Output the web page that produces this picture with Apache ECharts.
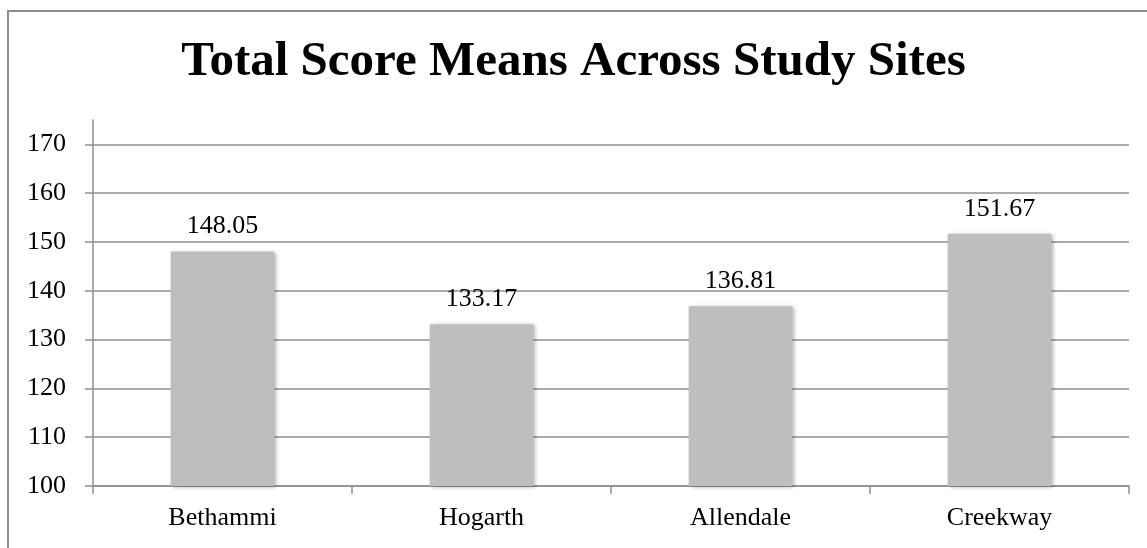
<!DOCTYPE html>
<html>
<head>
<meta charset="utf-8">
<script src="https://cdn.jsdelivr.net/npm/echarts@6/dist/echarts.min.js"></script>
<style>
  html, body { margin: 0; padding: 0; background: #fff; overflow: hidden; }
  #frame { position: absolute; left: 7px; top: 10px; width: 1300px; height: 700px;
           border-left: 2px solid #8c8c8c; border-top: 2px solid #8c8c8c; box-sizing: border-box; }
  #chart { position: absolute; left: 0; top: 0; width: 1147px; height: 548px; }
</style>
</head>
<body>
<div id="frame"></div>
<div id="chart"></div>
<script>
// Study sites and their mean total scores
const sites = ['Bethammi', 'Hogarth', 'Allendale', 'Creekway'];
const meanScores = [148.05, 133.17, 136.81, 151.67];
// Labelled y-axis ticks
const yTicks = [100, 110, 120, 130, 140, 150, 160, 170];

const serif = '"Liberation Serif", "DejaVu Serif", serif';
const lineColor = '#8f8f8f';

const chart = echarts.init(document.getElementById('chart'), null, { renderer: 'canvas' });
chart.setOption({
  animation: false,
  backgroundColor: 'transparent',
  title: {
    text: 'Total Score Means Across Study Sites',
    left: 'center',
    top: 33,
    textStyle: { fontFamily: serif, fontWeight: 'bold', fontSize: 49, color: '#000' }
  },
  grid: { left: 93, right: 18, top: 120, bottom: 62 },
  xAxis: {
    type: 'category',
    data: sites,
    axisLine: { lineStyle: { color: lineColor, width: 1.5 } },
    axisTick: { show: true, alignWithLabel: false, length: 8, lineStyle: { color: lineColor, width: 1.5 } },
    axisLabel: { fontFamily: serif, fontSize: 26, color: '#000', margin: 19 }
  },
  yAxis: {
    type: 'value',
    min: 100,
    max: 175,
    interval: 5,
    axisLine: { show: true, lineStyle: { color: lineColor, width: 1.5 } },
    axisTick: { show: true, length: 8, customValues: yTicks, lineStyle: { color: lineColor, width: 1.5 } },
    axisLabel: { fontFamily: serif, fontSize: 26, color: '#000', margin: 27, customValues: yTicks },
    splitLine: { show: true, lineStyle: { color: lineColor, width: 1.5 } }
  },
  series: [{
    type: 'bar',
    data: meanScores,
    barWidth: '40%',
    itemStyle: {
      color: '#bebebe',
      shadowColor: 'rgba(0,0,0,0.3)',
      shadowBlur: 4,
      shadowOffsetX: 2,
      shadowOffsetY: 1
    },
    label: {
      show: true,
      position: 'top',
      distance: 12,
      fontFamily: serif,
      fontSize: 26,
      color: '#000',
      formatter: p => p.value.toFixed(2)
    }
  }]
});
</script>
</body>
</html>
